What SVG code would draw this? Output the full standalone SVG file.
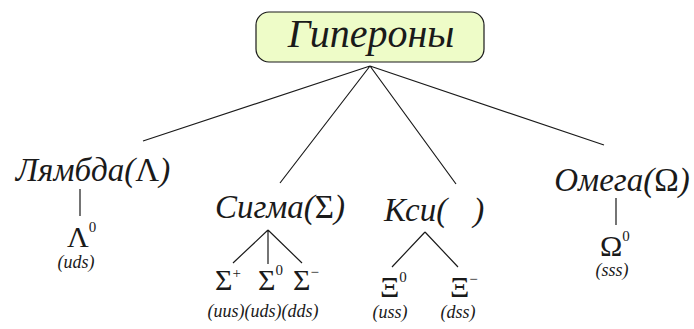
<svg xmlns="http://www.w3.org/2000/svg" width="694" height="329" viewBox="0 0 694 329">
<style>
.c{stroke:#1a1a1a;stroke-width:1.2;fill:none}
text{fill:#1a1a1a}
</style>
<rect width="694" height="329" fill="#fff"/>
<g id="connectors" class="c">
<path d="M370 66L143 141M370 66L280 183M370 66L456 184M370 66L604 145"/>
<path d="M80 189V216M616 198V225"/>
<path d="M268 230L233 263M268 230V264M268 230L302 263"/>
<path d="M425 232L392 267M425 232L458 267"/>
</g>
<g id="hyperons">
<rect x="256" y="12" width="228" height="50" rx="13" fill="#eefcc8" stroke="#1a1a1a" stroke-width="1.2"/>
<text x="371" y="47" font-family="Liberation Serif" font-size="40" font-style="italic" text-anchor="middle">Гипероны</text>
</g>
<g id="lambda">
<text x="93" y="181" font-family="Liberation Serif" font-size="33" font-style="italic" text-anchor="middle">Лямбда(<tspan font-style="normal">Λ</tspan>)</text>
<text x="67" y="247" font-family="Liberation Serif" font-size="30">Λ<tspan font-size="15" dy="-15">0</tspan></text>
<text x="76" y="268" font-family="Liberation Serif" font-size="18" font-style="italic" text-anchor="middle">(uds)</text>
</g>
<g id="sigma">
<text x="280" y="218" font-family="Liberation Serif" font-size="33" font-style="italic" text-anchor="middle">Сигма(<tspan font-style="normal">Σ</tspan>)</text>
<text x="215" y="290" font-family="Liberation Serif" font-size="30">Σ<tspan font-size="15" dy="-12">+</tspan></text>
<text x="258" y="290" font-family="Liberation Serif" font-size="30">Σ<tspan font-size="15" dy="-15">0</tspan></text>
<text x="293" y="290" font-family="Liberation Serif" font-size="30">Σ<tspan font-size="15" dy="-13">−</tspan></text>
<text x="263" y="317" font-family="Liberation Serif" font-size="18" font-style="italic" text-anchor="middle">(uus)(uds)(dds)</text>
</g>
<g id="xi">
<text x="384" y="221" font-family="Liberation Serif" font-size="33" font-style="italic">Кси(<tspan dx="26">)</tspan></text>
<text x="380" y="297" font-family="Liberation Serif" font-size="30">Ξ<tspan font-size="15" dy="-15">0</tspan></text>
<text x="450" y="297" font-family="Liberation Serif" font-size="30">Ξ<tspan font-size="15" dy="-13">−</tspan></text>
<text x="390" y="318" font-family="Liberation Serif" font-size="18" font-style="italic" text-anchor="middle">(uss)</text>
<text x="458" y="318" font-family="Liberation Serif" font-size="18" font-style="italic" text-anchor="middle">(dss)</text>
</g>
<g id="omega">
<text x="622" y="191" font-family="Liberation Serif" font-size="33" font-style="italic" text-anchor="middle">Омега(<tspan font-style="normal">Ω</tspan>)</text>
<text x="600" y="256" font-family="Liberation Serif" font-size="30">Ω<tspan font-size="15" dy="-15">0</tspan></text>
<text x="612" y="276" font-family="Liberation Serif" font-size="18" font-style="italic" text-anchor="middle">(sss)</text>
</g>
</svg>
